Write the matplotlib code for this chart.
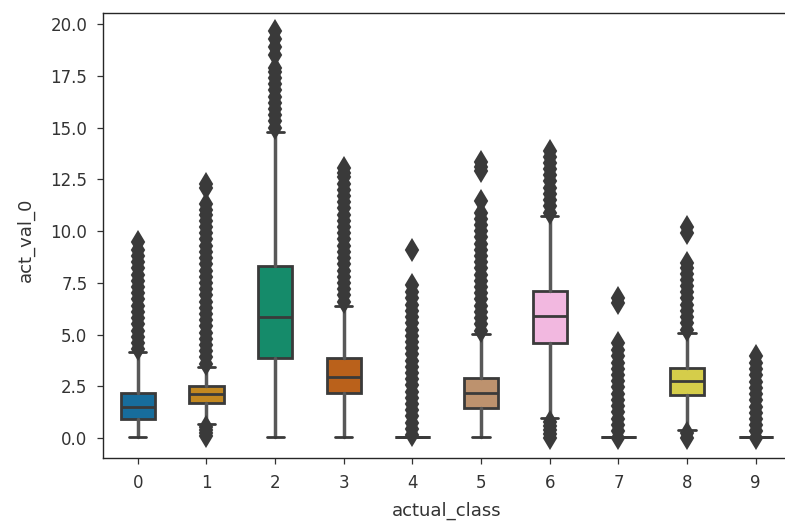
import matplotlib
matplotlib.use("Agg")
import matplotlib.pyplot as plt
import seaborn as sns

classes = ["0", "1", "2", "3", "4", "5", "6", "7", "8", "9"]
medians = [1.53, 2.14, 5.84, 2.97, 0.08, 2.17, 5.92, 0.08, 2.77, 0.08]
q1s = [0.93, 1.72, 3.86, 2.17, 0.08, 1.45, 4.62, 0.08, 2.09, 0.08]
q3s = [2.17, 2.53, 8.33, 3.86, 0.08, 2.90, 7.13, 0.08, 3.38, 0.08]
whis_lo = [0.08, 0.69, 0.08, 0.08, 0.08, 0.08, 0.97, 0.08, 0.40, 0.08]
whis_hi = [4.15, 3.46, 14.80, 6.40, 0.08, 5.02, 10.73, 0.08, 5.07, 0.08]

fliers_0 = [4.3, 4.6, 4.9, 5.2, 5.5, 5.8, 6.1, 6.4, 6.7, 7.0, 7.3, 7.6, 7.9, 8.2, 8.5, 8.8, 9.1, 9.5]
fliers_1 = [0.1, 0.25, 0.4, 0.55, 3.6, 3.9, 4.2, 4.5, 4.8, 5.1, 5.4, 5.7, 6.0, 6.3, 6.6, 6.9, 7.2, 7.5,
            7.8, 8.1, 8.4, 8.7, 9.0, 9.3, 9.6, 9.9, 10.2, 10.5, 10.8, 11.0, 11.3, 12.1, 12.3]
fliers_2 = [15.0, 15.3, 15.6, 15.9, 16.2, 16.5, 16.8, 17.1, 17.4, 17.7, 17.9, 18.5, 18.9, 19.3, 19.65]
fliers_3 = [6.6, 6.9, 7.2, 7.5, 7.8, 8.1, 8.4, 8.7, 9.0, 9.3, 9.6, 9.9, 10.2, 10.5, 10.8, 11.1, 11.4,
            11.7, 12.0, 12.3, 12.6, 12.8, 13.05]
fliers_4 = [0.15, 0.45, 0.75, 1.05, 1.35, 1.65, 1.95, 2.25, 2.55, 2.85, 3.15, 3.45, 3.75, 4.05, 4.35,
            4.65, 4.95, 5.25, 5.55, 5.85, 6.15, 6.45, 6.75, 7.05, 7.4, 9.09]
fliers_5 = [5.2, 5.5, 5.8, 6.1, 6.4, 6.7, 7.0, 7.3, 7.6, 7.9, 8.2, 8.5, 8.8, 9.1, 9.4, 9.7, 10.0, 10.3,
            10.6, 10.9, 11.45, 12.9, 13.1, 13.35]
fliers_6 = [0.0, 0.2, 0.4, 0.6, 0.8, 10.9, 11.2, 11.5, 11.8, 12.1, 12.4, 12.7, 13.0, 13.3, 13.6, 13.85]
fliers_7 = [0.03, 0.35, 0.65, 0.95, 1.25, 1.55, 1.85, 2.15, 2.45, 2.75, 3.05, 3.35, 3.65, 3.95, 4.25,
            4.6, 6.55, 6.75]
fliers_8 = [0.03, 0.25, 5.25, 5.55, 5.85, 6.15, 6.45, 6.75, 7.05, 7.35, 7.65, 7.95, 8.2, 8.45, 9.9, 10.2]
fliers_9 = [0.03, 0.33, 0.63, 0.93, 1.23, 1.53, 1.83, 2.13, 2.43, 2.73, 3.03, 3.33, 3.65, 3.95]
all_fliers = [fliers_0, fliers_1, fliers_2, fliers_3, fliers_4, fliers_5, fliers_6, fliers_7,
              fliers_8, fliers_9]

y_ticks = [0.0, 2.5, 5.0, 7.5, 10.0, 12.5, 15.0, 17.5, 20.0]

sns.set_style("ticks")
plt.rcParams['font.family'] = ['DejaVu Sans']

palette = [sns.desaturate(c, 0.75) for c in sns.color_palette("colorblind", 10)]
gray = "#3a3a3a"
wgray = "#585858"
lw = 2.0

stats = []
for i in range(len(classes)):
    stats.append(dict(med=medians[i], q1=q1s[i], q3=q3s[i], whislo=whis_lo[i],
                      whishi=whis_hi[i], fliers=all_fliers[i]))

fig = plt.figure(figsize=(7.85, 5.25), dpi=100)
ax = fig.add_axes([0.1318, 0.1282, 0.8746, 0.8476])

bp = ax.bxp(stats, positions=range(len(classes)), widths=0.5, capwidths=0.25,
            patch_artist=True, showfliers=True,
            boxprops=dict(edgecolor=gray, linewidth=lw),
            medianprops=dict(color=gray, linewidth=lw),
            whiskerprops=dict(color=wgray, linewidth=2.5),
            capprops=dict(color=gray, linewidth=lw),
            flierprops=dict(marker='d', markerfacecolor=gray, markeredgecolor=gray,
                            markersize=10.5, markeredgewidth=1.5, linestyle='none'))
for patch, col in zip(bp['boxes'], palette):
    patch.set_facecolor(col)

ax.set_xlim(-0.5, 9.5)
ax.set_ylim(-0.94, 20.55)
ax.set_xticks(range(len(classes)))
ax.set_xticklabels(classes)
ax.set_yticks(y_ticks)
ax.set_yticklabels([f"{v:.1f}" for v in y_ticks])
ax.tick_params(axis='both', labelsize=12, length=4, width=0.9, pad=7.5, colors='.2')
for s in ax.spines.values():
    s.set_linewidth(1.0)
    s.set_color('.15')

ax.set_xlabel("actual_class", fontsize=13, color='.2')
ax.set_ylabel("act_val_0", fontsize=13, color='.2')
ax.xaxis.set_label_coords(0.5, -0.100)
ax.yaxis.set_label_coords(-0.100, 0.489)

fig.savefig("out.png", dpi=100)
